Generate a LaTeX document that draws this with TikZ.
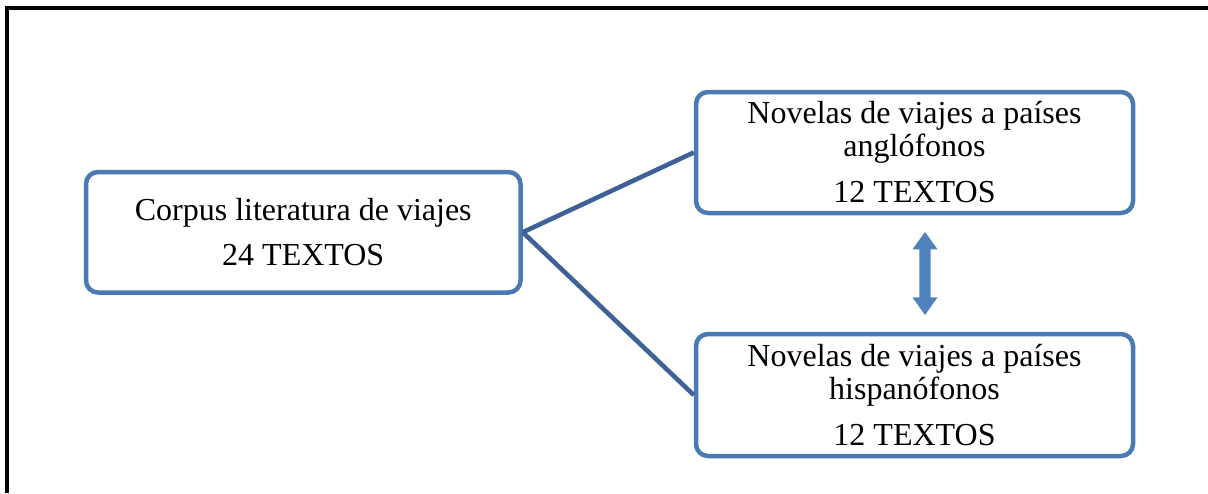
\documentclass[tikz,border=0pt]{standalone}
\usepackage{fontspec}
\setmainfont{Liberation Serif}
\definecolor{boxblue}{RGB}{74,122,180}
\definecolor{linkblue}{RGB}{62,98,150}
\definecolor{arrowblue}{RGB}{79,129,189}
\begin{document}
\begin{tikzpicture}[x=1pt,y=-1pt,
  box/.style={draw=boxblue, line width=4.5pt, rounded corners=12pt, fill=white,
    inner sep=0pt, align=center, font=\fontsize{32}{33}\selectfont},
  conn/.style={draw=linkblue, line width=4.6pt},
  frameline/.style={draw=black, line width=4.2pt}
]
\useasboundingbox (0,0) rectangle (1208,493);
% frame (top and left edges)
\coordinate (fbl) at (7,493);
\coordinate (ftl) at (7,8);
\coordinate (ftr) at (1208,8);
\draw[frameline] (fbl) -- (ftl) -- (ftr);
% boxes
\node[box, minimum width=434.5pt, minimum height=120.5pt] (corpus) at (303.25,232.25)
  {Corpus literatura de viajes\\[12pt]24 TEXTOS};
\node[box, minimum width=437pt, minimum height=121pt] (anglo) at (914.5,152.5)
  {Novelas de viajes a países\\anglófonos\\[13pt]12 TEXTOS};
\node[box, minimum width=437pt, minimum height=122pt] (hispano) at (914.5,395)
  {Novelas de viajes a países\\hispanófonos\\[13pt]12 TEXTOS};
% connectors
\draw[conn] (corpus.east) -- (anglo.west);
\draw[conn] (corpus.east) -- (hispano.west);
% double arrow
\fill[arrowblue] (925,232) -- (937.5,249.3) -- (930.7,249.3) -- (930.7,297.3)
  -- (937.5,297.3) -- (925,315) -- (912.5,297.3) -- (919.3,297.3)
  -- (919.3,249.3) -- (912.5,249.3) -- cycle;
\end{tikzpicture}
\end{document}
